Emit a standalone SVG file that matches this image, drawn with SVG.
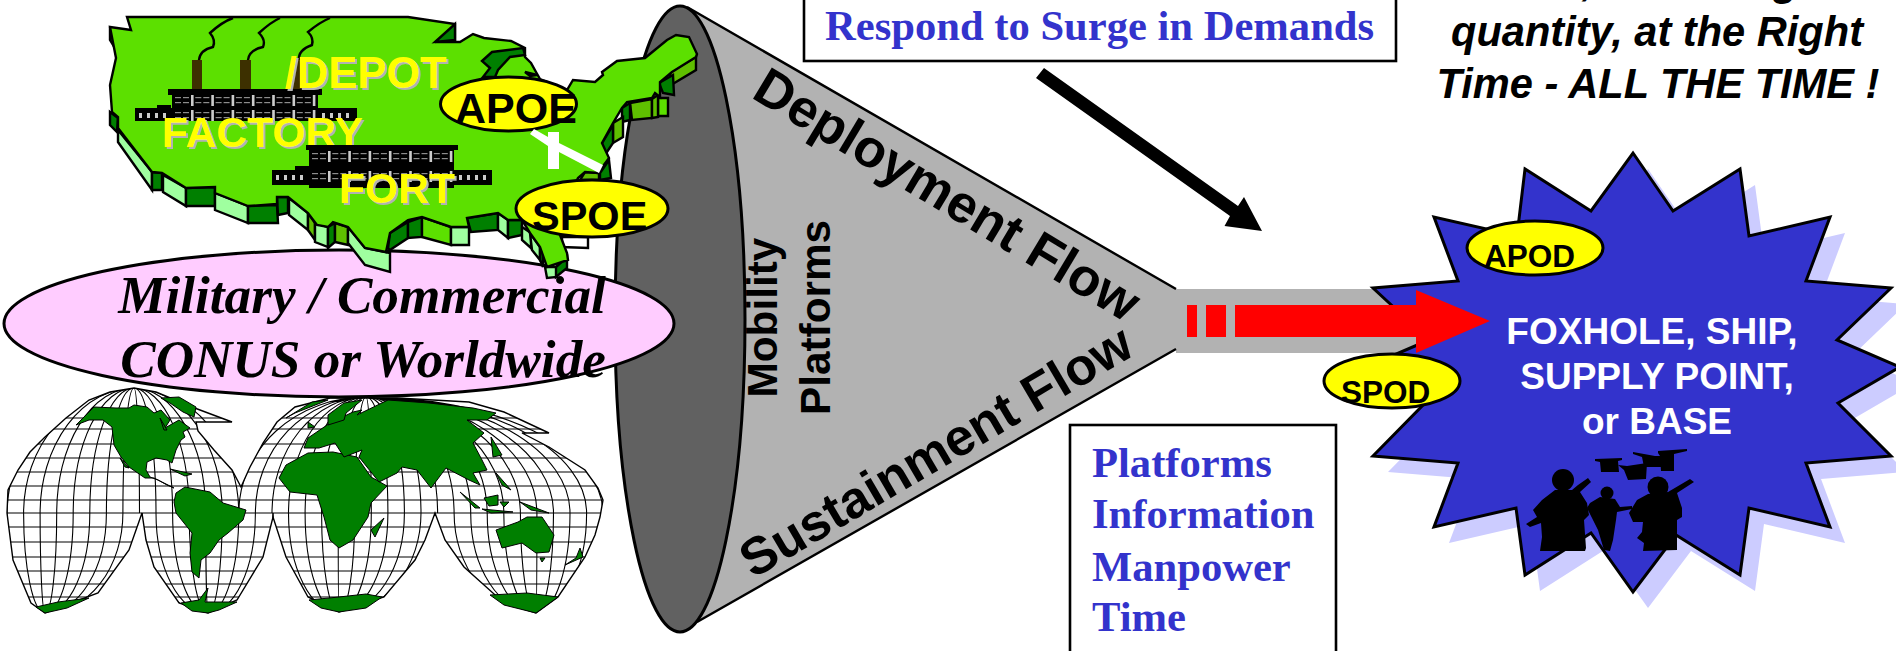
<svg xmlns="http://www.w3.org/2000/svg" xmlns:xlink="http://www.w3.org/1999/xlink" width="1896" height="651" viewBox="0 0 1896 651">
<style>
text{font-family:"Liberation Sans",Arial,sans-serif;font-weight:bold}
.ser{font-family:"Liberation Serif","Times New Roman",serif}
.blue{fill:#3333cc;font-size:42.6px}
.mc{font-size:53.2px;font-style:italic;text-anchor:middle}
.yl{fill:#ffff00;filter:url(#sh)}
.tag{fill:#ffff00;stroke:#000;stroke-width:3}
.top{font-size:41.6px;font-style:italic;text-anchor:middle}
.wh{fill:#fff;font-size:37px;text-anchor:middle}
.s{stroke:#000;stroke-width:2.4;stroke-linejoin:miter}
.g{fill:#5ce000}.d{fill:#007f00}.l{fill:#9fff9f}.m{fill:#5fbf00}
.land{fill:#007f00;stroke:#000;stroke-width:1;stroke-linejoin:round}
.grid{fill:none;stroke:#000;stroke-width:1.1}
.box{fill:#fff;stroke:#000;stroke-width:2.6}
.smoke{fill:none;stroke:#000;stroke-width:2.4}
.ch{fill:#3d3000}
.bk{fill:#000}
.bar{fill:#ccc}.win{fill:#8c8c8c}
</style>
<defs>
<filter id="sh" x="-5%" y="-5%" width="110%" height="115%"><feDropShadow dx="2" dy="2" stdDeviation="0" flood-color="#b2b2b2" flood-opacity="1"/></filter>
<clipPath id="mapclip"><path id="mapo" d="M7,513 L8,490 18,470 30,452 45,437 66,418 89,400 110,392 134,388 156,392 192,407 232,422 196,422 198,431 214,450 232,470 241,487 250,467 263,443 277,422 295,407 330,398 397,398 469,402 504,412 549,433 522,433 549,447 585,470 598,488 603,500 600,517 595,535 585,557 558,597 536,613 504,603 464,567 445,540 435,513 425,540 415,560 384,597 339,612 308,597 286,557 273,517 263,557 237,600 208,613 179,603 154,567 146,540 142,513 129,550 98,593 45,613 31,603 13,560Z"/></clipPath>
<g id="bay"><rect class="bar" x="18" y="-2" width="2.6" height="11"/><rect class="win" x="2" y="0" width="6" height="1.2"/><rect class="win" x="10" y="0" width="6" height="1.2"/><rect class="win" x="2" y="5" width="6" height="1.2"/><rect class="win" x="10" y="5" width="6" height="1.2"/></g>
<g id="row"><use xlink:href="#bay" x="0"/><use xlink:href="#bay" x="20.3"/><use xlink:href="#bay" x="40.6"/><use xlink:href="#bay" x="60.9"/><use xlink:href="#bay" x="81.2"/><use xlink:href="#bay" x="101.5"/><use xlink:href="#bay" x="121.8"/></g>
<g id="wing"><rect class="bar" x="0" y="0" width="3" height="5"/><rect class="bar" x="8" y="0" width="3" height="5"/><rect class="bar" x="16" y="0" width="3" height="5"/><rect class="bar" x="24" y="0" width="3" height="5"/></g>
</defs>
<rect width="1896" height="651" fill="#fff"/>

<g id="funnel">
<polygon points="687,7 1176,289 1176,349 697,622 680,632 615,319 680,6" fill="#b2b2b2"/>
<rect x="1176" y="289" width="254" height="64" fill="#b2b2b2"/>
<path d="M687,7 L1176,289 M697,622 L1176,349" fill="none" stroke="#000" stroke-width="2.4"/>
<ellipse cx="680" cy="319" rx="65" ry="313" fill="#616161" stroke="#000" stroke-width="3"/>
<text font-size="53" transform="translate(750,97) rotate(31)">Deployment Flow</text>
<text font-size="52" transform="translate(753,579) rotate(-30.4)">Sustainment Flow</text>
<text font-size="42.3" transform="translate(777,397.5) rotate(-90)">Mobility</text>
<text font-size="42.3" transform="translate(829.6,415) rotate(-90)">Platforms</text>
</g>

<g id="world-map">
<use xlink:href="#mapo" fill="#fff"/>
<g clip-path="url(#mapclip)">
<path class="grid" d="M0,418H610M0,429H610M0,444H610M0,458H610M0,472H610M0,486H610M0,500H610M0,513H610M0,527H610M0,542H610M0,557H610M0,571H610M0,584H610M0,597H610"/>
<path class="grid" d="M7,513A127,125 0 0 1 134,388M23.6,513A110.4,125 0 0 1 134,388M40.1,513A93.9,125 0 0 1 134,388M56.7,513A77.3,125 0 0 1 134,388M73.2,513A60.8,125 0 0 1 134,388M89.8,513A44.2,125 0 0 1 134,388M106.4,513A27.6,125 0 0 1 134,388M122.9,513A11.1,125 0 0 1 134,388M139.5,513A5.5,125 0 0 0 134,388M156,513A22,125 0 0 0 134,388M172.6,513A38.6,125 0 0 0 134,388M189.2,513A55.2,125 0 0 0 134,388M205.7,513A71.7,125 0 0 0 134,388M222.3,513A88.3,125 0 0 0 134,388M238.8,513A104.8,125 0 0 0 134,388"/>
<path class="grid" d="M238.8,513A127.2,116 0 0 1 366,397M255.4,513A110.6,116 0 0 1 366,397M272,513A94,116 0 0 1 366,397M288.5,513A77.5,116 0 0 1 366,397M305.1,513A60.9,116 0 0 1 366,397M321.6,513A44.4,116 0 0 1 366,397M338.2,513A27.8,116 0 0 1 366,397M354.8,513A11.2,116 0 0 1 366,397M371.3,513A5.3,116 0 0 0 366,397M387.9,513A21.9,116 0 0 0 366,397M404.4,513A38.4,116 0 0 0 366,397M421,513A55,116 0 0 0 366,397M437.6,513A71.6,116 0 0 0 366,397M454.1,513A88.1,116 0 0 0 366,397M470.7,513A104.7,116 0 0 0 366,397M487.2,513A121.2,116 0 0 0 366,397M503.8,513A137.8,116 0 0 0 366,397M520.4,513A154.4,116 0 0 0 366,397M536.9,513A170.9,116 0 0 0 366,397M553.5,513A187.5,116 0 0 0 366,397M570,513A204,116 0 0 0 366,397M586.6,513A220.6,116 0 0 0 366,397M603,513A237,116 0 0 0 366,397"/>
<path class="grid" d="M7,513A38,100 0 0 0 45,613M23.6,513A21.4,100 0 0 0 45,613M40.1,513A4.9,100 0 0 0 45,613M56.7,513A11.7,100 0 0 1 45,613M73.2,513A28.2,100 0 0 1 45,613M89.8,513A44.8,100 0 0 1 45,613M106.4,513A61.4,100 0 0 1 45,613M122.9,513A77.9,100 0 0 1 45,613M142,513A97,100 0 0 1 45,613"/>
<path class="grid" d="M142,513A66,100 0 0 0 208,613M156,513A52,100 0 0 0 208,613M172.6,513A35.4,100 0 0 0 208,613M189.2,513A18.8,100 0 0 0 208,613M205.7,513A2.3,100 0 0 0 208,613M222.3,513A14.3,100 0 0 1 208,613M238.8,513A30.8,100 0 0 1 208,613M255.4,513A47.4,100 0 0 1 208,613M273,513A65,100 0 0 1 208,613"/>
<path class="grid" d="M273,513A66,100 0 0 0 339,613M288.5,513A50.5,100 0 0 0 339,613M305.1,513A33.9,100 0 0 0 339,613M321.6,513A17.4,100 0 0 0 339,613M338.2,513A.8,100 0 0 0 339,613M354.8,513A15.8,100 0 0 1 339,613M371.3,513A32.3,100 0 0 1 339,613M387.9,513A48.9,100 0 0 1 339,613M404.4,513A65.4,100 0 0 1 339,613M421,513A82,100 0 0 1 339,613M435,513A96,100 0 0 1 339,613"/>
<path class="grid" d="M435,513A101,100 0 0 0 536,613M454.1,513A81.9,100 0 0 0 536,613M470.7,513A65.3,100 0 0 0 536,613M487.2,513A48.8,100 0 0 0 536,613M503.8,513A32.2,100 0 0 0 536,613M520.4,513A15.6,100 0 0 0 536,613M536.9,513A.9,100 0 0 1 536,613M553.5,513A17.5,100 0 0 1 536,613M570,513A34,100 0 0 1 536,613M586.6,513A50.6,100 0 0 1 536,613M603,513A67,100 0 0 1 536,613"/>
</g>
<use xlink:href="#mapo" fill="none" stroke="#000" stroke-width="1.4"/>
<polygon class="land" points="76,425 89,412 94,407 116,408 129,408 134,405 147,407 154,413 161,410 170,420 165,428 179,420 190,428 183,432 185,437 181,440 176,450 172,463 167,460 156,458 147,462 146,470 150,477 158,480 167,485 174,488 154,478 145,478 129,467 121,457 114,445 112,427 103,420 89,420"/>
<polygon class="land" points="161,398 179,397 196,407 194,417 183,412 170,403"/>
<polygon class="land" points="170,469 192,474 185,476"/>
<polygon class="land" points="120,458 129,468 125,467"/>
<polygon class="land" points="160,418 167,430 164,430"/>
<polygon class="land" points="176,493 185,487 210,492 223,503 246,510 243,520 228,533 219,540 210,553 201,560 199,578 192,572 190,553 192,533 176,513 174,502"/>
<polygon class="land" points="36,607 58,602 89,598 67,608 45,613"/>
<polygon class="land" points="181,603 199,600 208,588 205,602 237,602 219,610 208,613 192,611"/>
<polygon class="land" points="309,600 339,597 366,594 382,597 366,608 339,612 321,608"/>
<polygon class="land" points="490,595 527,593 558,597 536,613 504,605"/>
<polygon class="land" points="279,478 286,465 308,453 333,452 357,457 371,477 387,486 371,503 368,517 353,540 339,548 330,540 324,517 317,495 290,492"/>
<polygon class="land" points="384,518 375,537 371,530"/>
<polygon class="land" points="304,448 308,438 330,423 353,412 362,410 357,415 388,400 429,403 473,408 496,413 487,420 467,420 484,433 473,443 482,460 487,470 473,473 480,485 469,480 446,468 431,488 417,470 402,467 397,473 379,482 359,457 362,450 344,457 335,443 319,448"/>
<polygon class="land" points="286,418 312,402 328,400 295,413"/>
<polygon class="land" points="328,415 344,403 362,400 346,413 344,420 328,425"/>
<polygon class="land" points="308,422 315,427 308,428"/>
<polygon class="land" points="491,437 502,455 493,457"/>
<polygon class="land" points="460,492 480,508 475,508"/>
<polygon class="land" points="484,498 498,495 498,505 489,506"/>
<polygon class="land" points="482,509 513,512 491,513"/>
<polygon class="land" points="500,502 509,502 504,507"/>
<polygon class="land" points="520,502 549,513 531,510"/>
<polygon class="land" points="496,473 511,490 502,485"/>
<polygon class="land" points="496,530 518,522 527,517 542,517 554,535 549,552 536,553 522,543 502,548"/>
<polygon class="land" points="540,558 545,558 542,562"/>
<polygon class="land" points="580,548 583,557 565,565 576,558"/>
</g>

<g id="scope-ellipse"><ellipse cx="339" cy="323.5" rx="335" ry="73.5" fill="#ffccff" stroke="#000" stroke-width="3"/></g>

<g id="usa">
<g class="s">
<polygon class="d" points="110,27 116,50 110,40"/>
<polygon class="d" points="110,112 118,118 117,132 110,125"/>
<polygon class="l" points="118,130 152,172 152,190 118,142"/>
<polygon class="d" points="152,172 162,173 162,190 152,190"/>
<polygon class="l" points="163,175 186,188 186,206 163,192"/>
<polygon class="d" points="186,188 215,187 215,206 186,206"/>
<polygon class="l" points="215,193 248,206 248,223 215,210"/>
<polygon class="d" points="248,206 277,205 278,223 248,223"/>
<polygon class="d" points="277,197 288,197 288,213 278,215"/>
<polygon class="l" points="289,198 308,213 308,230 289,215"/>
<polygon class="m" points="308,213 315,223 315,240 308,230"/>
<polygon class="l" points="315,223 328,227 328,247 315,242"/>
<polygon class="d" points="328,227 335,223 335,242 328,248"/>
<polygon class="m" points="335,223 348,227 348,245 335,242"/>
<polygon class="l" points="348,227 365,248 390,253 390,272 365,265 348,243"/>
<polygon class="d" points="388,248 390,233 408,222 408,238 390,250"/>
<polygon class="d" points="408,222 422,217 422,237 408,238"/>
<polygon class="g" points="422,217 451,227 451,245 422,237"/>
<polygon class="l" points="451,227 469,227 469,245 451,245"/>
<polygon class="d" points="467,218 498,213 498,230 471,232"/>
<polygon class="l" points="498,213 508,220 508,238 498,230"/>
<polygon class="d" points="508,220 522,220 522,235 508,238"/>
<polygon class="l" points="522,227 531,233 531,248 522,240"/>
<polygon class="l" points="530,233 540,247 540,260 532,250"/>
<polygon class="d" points="540,247 543,248 543,267 540,260"/>
<polygon class="l" points="545,267 557,267 557,277 547,278"/>
<polygon class="d" points="556,267 567,257 567,268 556,277"/>
<polygon fill="#fff" points="562,237 588,237 588,248 562,247"/>
<polygon class="m" points="670,72 696,57 696,70 671,85"/>
<polygon class="d" points="659,83 673,75 674,95 663,93"/>
<polygon class="g" points="658,98 668,98 668,116 658,116"/>
<polygon class="m" points="630,103 652,99 652,118 632,120"/>
<polygon class="m" points="652,99 658,95 658,117 652,118"/>
<polygon class="d" points="622,108 630,103 630,120 622,122"/>
<polygon class="bk" points="608,118 614,118 617,123 612,126"/>
<polygon class="m" points="613,123 623,117 623,137 613,143"/>
<polygon class="d" points="602,143 613,125 613,143 605,155"/>
<polygon class="d" points="600,173 609,160 611,178 600,180"/>
<polygon class="m" points="585,172 599,173 599,180 580,180"/>
<path class="g" d="M127,17L408,17 455,24 455,40 435,42 460,42 473,34 484,38 511,41 525,48 525,57 531,63 536,72 540,79 567,90 573,80 595,82 603,75 602,72 617,61 645,58 667,40 676,35 689,37 697,54 696,57 672,72 660,82 660,97 655,93 652,98 627,102 622,108 613,123 602,143 609,158 598,173 585,172 578,178 560,215 560,235 567,253 568,260 547,267 540,247 530,233 522,220 508,220 498,213 467,218 469,227 451,227 422,217 408,220 390,233 386,252 365,248 348,227 333,222 328,227 317,225 308,213 288,197 277,197 277,204 248,206 215,193 215,187 186,188 162,173 152,172 118,128 118,117 112,112 110,85 116,58 110,27 131,30Z"/>
<polygon class="d" points="455,24 455,40 435,42"/>
<polygon class="d" points="482,61 492,52 523,48 525,55 510,57 498,70 495,77 483,77 490,68"/>
<polygon class="d" points="525,72 537,75 530,76"/>
</g>
</g>

<g id="factory">
<path class="smoke" d="M199,60Q200,50 213,47Q216,40 210,33Q222,22 233,18"/>
<path class="smoke" d="M248,60Q249,50 263,47Q266,40 259,33Q271,22 280,18"/>
<path class="smoke" d="M299,60Q298,50 312,45Q314,38 308,32Q320,22 330,18"/>
<rect class="ch" x="192" y="60" width="10" height="29"/><rect class="ch" x="240" y="60" width="11" height="29"/><rect class="ch" x="291" y="60" width="11" height="29"/>
<rect class="bk" x="168" y="89" width="154" height="6"/><rect class="bk" x="172" y="95" width="146" height="26"/><rect class="bk" x="135" y="108" width="222" height="13"/><rect class="bk" x="157" y="105" width="14" height="4"/>
<use xlink:href="#row" x="173" y="97"/><use xlink:href="#row" x="173" y="112"/>
<use xlink:href="#wing" x="139" y="113"/><use xlink:href="#wing" x="322" y="113"/>
<text class="yl" font-size="42.6" x="162" y="147">FACTORY</text>
<text class="yl" font-size="43.5" x="285" y="88">/DEPOT</text>
</g>

<g id="fort">
<rect class="bk" x="306" y="145" width="152" height="5"/><rect class="bk" x="309" y="150" width="145" height="38"/><rect class="bk" x="272" y="170" width="220" height="15"/><rect class="bk" x="295" y="166" width="14" height="4"/>
<use xlink:href="#row" x="310" y="153"/><use xlink:href="#row" x="310" y="173"/>
<use xlink:href="#wing" x="276" y="175"/><use xlink:href="#wing" x="459" y="175"/>
<text class="yl" font-size="42.6" x="339" y="203">FORT</text>
</g>

<g id="apoe"><ellipse class="tag" cx="508.5" cy="104" rx="68" ry="27"/><text font-size="43" x="455" y="123">APOE</text></g>
<polygon id="route-mark" fill="#fff" points="530,134 534,129 548,137 548,132 559,132 559,143 603,165 599,173 559,152 559,169 548,169 548,146"/>
<g id="spoe"><ellipse class="tag" cx="592" cy="208.5" rx="76" ry="28.5"/><text font-size="41.5" x="532" y="230">SPOE</text></g>
<g id="scope-text"><text class="ser mc" x="362" y="313">Military / Commercial</text><text class="ser mc" x="363" y="377">CONUS or Worldwide</text></g>

<g id="destination">
<polygon fill="#ccccff" transform="translate(15,16)" points="1633,153 1673,211 1740,169 1749,236 1830,217 1806,281 1891,288 1837,340 1900,367 1838,403 1891,456 1806,463 1830,527 1749,508 1740,575 1676,535 1633,592 1591,533 1525,575 1516,508 1434,527 1458,463 1373,456 1425,403 1366,367 1429,340 1373,288 1458,281 1434,217 1517,236 1525,169 1591,211"/>
<polygon fill="#3333cc" stroke="#000" stroke-width="3" points="1633,153 1673,211 1740,169 1749,236 1830,217 1806,281 1891,288 1837,340 1900,367 1838,403 1891,456 1806,463 1830,527 1749,508 1740,575 1676,535 1633,592 1591,533 1525,575 1516,508 1434,527 1458,463 1373,456 1425,403 1366,367 1429,340 1373,288 1458,281 1434,217 1517,236 1525,169 1591,211"/>
<text class="wh" x="1652" y="344">FOXHOLE, SHIP,</text>
<text class="wh" x="1657" y="389">SUPPLY POINT,</text>
<text class="wh" x="1657" y="433.5">or BASE</text>
<g class="bk">
<circle cx="1563" cy="480" r="11"/><polygon points="1533,510 1542,500 1555,490 1572,490 1578,485 1588,478 1591,482 1580,492 1587,503 1589,515 1584,520 1586,548 1585,551 1540,551 1542,537 1541,523 1530,527 1526,524 1537,517"/>
<circle cx="1607" cy="493" r="6.5"/><polygon points="1590,503 1600,497 1615,499 1620,507 1632,506 1632,509 1617,512 1616,520 1613,540 1610,551 1604,550 1598,530 1592,518 1587,508"/>
<circle cx="1658" cy="487" r="10.5"/><polygon points="1637,500 1648,494 1668,492 1690,479 1694,482 1677,493 1682,508 1682,517 1677,520 1677,550 1643,551 1644,543 1637,538 1642,532 1643,522 1633,522 1629,513"/>
<polygon points="1595,459 1622,458 1622,460 1618,461 1619,472 1601,472 1600,462 1595,461"/>
<polygon points="1618,465 1627,466 1647,463 1646,479 1628,480 1624,470"/>
<polygon points="1633,452 1655,456 1661,456 1661,467 1644,467 1642,457 1633,454"/>
<polygon points="1658,451 1687,449 1687,451 1674,454 1674,471 1661,471 1660,456 1658,453"/>
</g>
</g>

<g id="connectors">
<polygon fill="#ff0000" points="1187,305 1197,305 1197,337 1187,337"/>
<polygon fill="#ff0000" points="1206,305 1226,305 1226,337 1206,337"/>
<polygon fill="#ff0000" points="1235,305 1416,305 1416,290 1490,321 1416,353 1416,337 1235,337"/>
<polygon fill="#000" points="1044,68 1238,206 1244,197 1262,231 1224.5,226 1230,216 1036,78"/>
</g>

<g id="apod"><ellipse class="tag" cx="1535" cy="248" rx="68" ry="27"/><text font-size="31.5" x="1484" y="267">APOD</text></g>
<g id="spod"><ellipse class="tag" cx="1392" cy="381" rx="68" ry="27"/><text font-size="31.5" x="1341" y="403">SPOD</text></g>

<g id="surge-box"><rect class="box" x="804" y="-5" width="592" height="66"/><text class="ser blue" x="825" y="40">Respond to Surge in Demands</text></g>
<g id="resources-box"><rect class="box" x="1070" y="425" width="266" height="240"/>
<text class="ser blue" x="1092" y="477">Platforms</text><text class="ser blue" x="1092" y="528">Information</text><text class="ser blue" x="1092" y="581">Manpower</text><text class="ser blue" x="1092" y="631">Time</text></g>

<g id="goal-text">
<text font-size="42" font-style="italic" x="1582 1773" y="-5">,g</text>
<text class="top" x="1657" y="46">quantity, at the Right</text>
<text class="top" x="1658" y="98">Time - ALL THE TIME !</text>
</g>
</svg>
